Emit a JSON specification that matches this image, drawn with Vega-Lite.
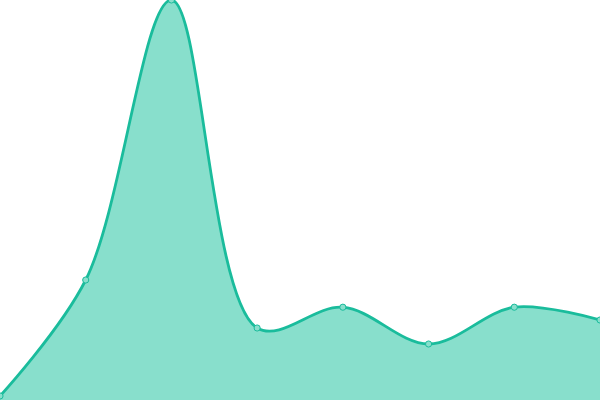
{
  "$schema": "https://vega.github.io/schema/vega-lite/v6.json",
  "width": 600,
  "height": 400,
  "autosize": {"type": "none"},
  "padding": 0,
  "background": "white",
  "config": {"view": {"stroke": null}},
  "data": {
    "values": [
      {"i": 0, "v": 1},
      {"i": 1, "v": 30},
      {"i": 2, "v": 100},
      {"i": 3, "v": 18},
      {"i": 4, "v": 23.2},
      {"i": 5, "v": 14},
      {"i": 6, "v": 23.2},
      {"i": 7, "v": 20}
    ]
  },
  "encoding": {
    "x": {"field": "i", "type": "quantitative", "axis": null, "scale": {"domain": [0, 7], "nice": false, "zero": false}},
    "y": {"field": "v", "type": "quantitative", "axis": null, "scale": {"domain": [0, 100], "nice": false}}
  },
  "layer": [
    {"mark": {"type": "area", "interpolate": "catmull-rom", "color": "#88dfcc", "opacity": 1}},
    {"mark": {"type": "line", "interpolate": "catmull-rom", "color": "#1abc9c", "strokeWidth": 2.8}},
    {"mark": {"type": "point", "filled": true, "fill": "#88dfcc", "stroke": "#1abc9c", "strokeWidth": 1, "size": 38, "opacity": 1}}
  ]
}
